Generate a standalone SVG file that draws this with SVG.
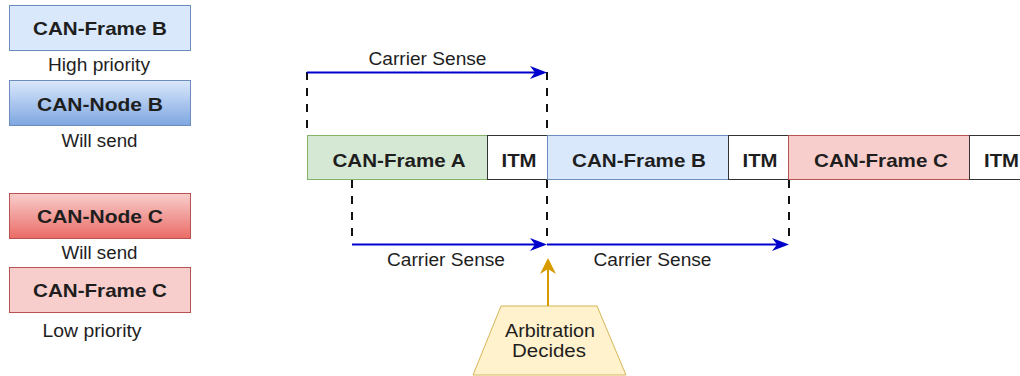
<svg xmlns="http://www.w3.org/2000/svg" width="1020" height="376" viewBox="0 0 1020 376">
  <style>
    .lbl { font-family: "Liberation Sans", Arial, Helvetica, sans-serif; fill: #1e1e1e; text-anchor: middle; }
    .b { font-size: 18.5px; font-weight: bold; }
    .r { font-size: 17.5px; }
    .blue-box { fill: #dae8fc; stroke: #6c8ebf; stroke-width: 1; }
    .red-box { fill: #f8cecc; stroke: #b85450; stroke-width: 1; }
    .green-box { fill: #d5e8d4; stroke: #82b366; stroke-width: 1; }
    .itm-box { fill: #ffffff; stroke: #333333; stroke-width: 1; }
    .dash { fill: none; stroke: #111111; stroke-width: 2; stroke-dasharray: 8 8; }
    .sense { fill: none; stroke: #0000cc; stroke-width: 2; marker-end: url(#arrowBlue); }
    .decide { fill: none; stroke: #d79b00; stroke-width: 2; marker-end: url(#arrowOrange); }
  </style>
  <defs>
    <linearGradient id="gradBlue" x1="0" y1="0" x2="0" y2="1">
      <stop offset="0" stop-color="#dae8fc"/>
      <stop offset="1" stop-color="#7ea6e0"/>
    </linearGradient>
    <linearGradient id="gradRed" x1="0" y1="0" x2="0" y2="1">
      <stop offset="0" stop-color="#f8cecc"/>
      <stop offset="1" stop-color="#ea6b66"/>
    </linearGradient>
    <marker id="arrowBlue" markerUnits="userSpaceOnUse" markerWidth="18" markerHeight="14" refX="13" refY="6.5" orient="auto">
      <path d="M0,0 L17,6.5 L0,13 L5,6.5 Z" fill="#0000cc"/>
    </marker>
    <marker id="arrowOrange" markerUnits="userSpaceOnUse" markerWidth="18" markerHeight="16" refX="12" refY="8" orient="auto">
      <path d="M0,0 L16,8 L0,16 L5,8 Z" fill="#d79b00"/>
    </marker>
  </defs>

  <!-- legend -->
  <g id="legend-frame-b">
    <rect class="blue-box" x="9.5" y="5.5" width="181" height="45"/>
    <text class="lbl b" x="100" y="35" textLength="134" lengthAdjust="spacingAndGlyphs">CAN-Frame B</text>
  </g>
  <text class="lbl r" x="99" y="70.5" textLength="102" lengthAdjust="spacingAndGlyphs">High priority</text>

  <g id="legend-node-b">
    <rect x="9.5" y="80.5" width="181" height="45" fill="url(#gradBlue)" stroke="#6c8ebf"/>
    <text class="lbl b" x="100" y="111" textLength="126" lengthAdjust="spacingAndGlyphs">CAN-Node B</text>
  </g>
  <text class="lbl r" x="99.5" y="146.5" textLength="76" lengthAdjust="spacingAndGlyphs">Will send</text>

  <g id="legend-node-c">
    <rect x="9.5" y="193.5" width="181" height="45" fill="url(#gradRed)" stroke="#b85450"/>
    <text class="lbl b" x="100" y="223" textLength="126" lengthAdjust="spacingAndGlyphs">CAN-Node C</text>
  </g>
  <text class="lbl r" x="99.5" y="259" textLength="76" lengthAdjust="spacingAndGlyphs">Will send</text>

  <g id="legend-frame-c">
    <rect class="red-box" x="9.5" y="267.5" width="181" height="45"/>
    <text class="lbl b" x="100" y="297" textLength="134" lengthAdjust="spacingAndGlyphs">CAN-Frame C</text>
  </g>
  <text class="lbl r" x="92" y="336.5" textLength="99" lengthAdjust="spacingAndGlyphs">Low priority</text>

  <!-- bus timeline -->
  <g id="frame-a">
    <rect class="green-box" x="307.5" y="135.5" width="180" height="44"/>
    <text class="lbl b" x="399" y="167" textLength="133" lengthAdjust="spacingAndGlyphs">CAN-Frame A</text>
  </g>
  <g id="itm-1">
    <rect class="itm-box" x="487.5" y="135.5" width="60" height="44"/>
    <text class="lbl b" x="519" y="167" textLength="35" lengthAdjust="spacingAndGlyphs">ITM</text>
  </g>
  <g id="frame-b">
    <rect class="blue-box" x="547.5" y="135.5" width="181" height="44"/>
    <text class="lbl b" x="639" y="167" textLength="134" lengthAdjust="spacingAndGlyphs">CAN-Frame B</text>
  </g>
  <g id="itm-2">
    <rect class="itm-box" x="728.5" y="135.5" width="60" height="44"/>
    <text class="lbl b" x="760" y="167" textLength="35" lengthAdjust="spacingAndGlyphs">ITM</text>
  </g>
  <g id="frame-c">
    <rect class="red-box" x="788.5" y="135.5" width="181" height="44"/>
    <text class="lbl b" x="881" y="167" textLength="134" lengthAdjust="spacingAndGlyphs">CAN-Frame C</text>
  </g>
  <g id="itm-3">
    <rect class="itm-box" x="969.5" y="135.5" width="60" height="44"/>
    <text class="lbl b" x="1001.5" y="167" textLength="35" lengthAdjust="spacingAndGlyphs">ITM</text>
  </g>

  <g id="arbitration">
    <path d="M501,306 L597,306 L626,375 L473,375 Z" fill="#fff2cc" stroke="#d6b656" stroke-width="1"/>
    <text class="lbl r" x="550" y="337" textLength="90" lengthAdjust="spacingAndGlyphs">Arbitration</text>
    <text class="lbl r" x="549" y="357" textLength="74" lengthAdjust="spacingAndGlyphs">Decides</text>
  </g>

  <!-- connectors -->
  <g id="connectors">
    <path class="dash" d="M307,72 V135"/>
    <path class="dash" d="M547,72 V135"/>
    <path class="sense" d="M307,72.5 H543"/>
    <text class="lbl r" x="427.5" y="65" textLength="118" lengthAdjust="spacingAndGlyphs">Carrier Sense</text>

    <path class="dash" d="M352,180 V244"/>
    <path class="dash" d="M547,180 V244"/>
    <path class="dash" d="M789,180 V244"/>
    <path class="sense" d="M352,244.5 H543"/>
    <path class="sense" d="M547,244.5 H785"/>
    <text class="lbl r" x="446" y="266" textLength="118" lengthAdjust="spacingAndGlyphs">Carrier Sense</text>
    <text class="lbl r" x="652.5" y="266" textLength="118" lengthAdjust="spacingAndGlyphs">Carrier Sense</text>

    <path class="decide" d="M548,306 V262"/>
  </g>
</svg>
